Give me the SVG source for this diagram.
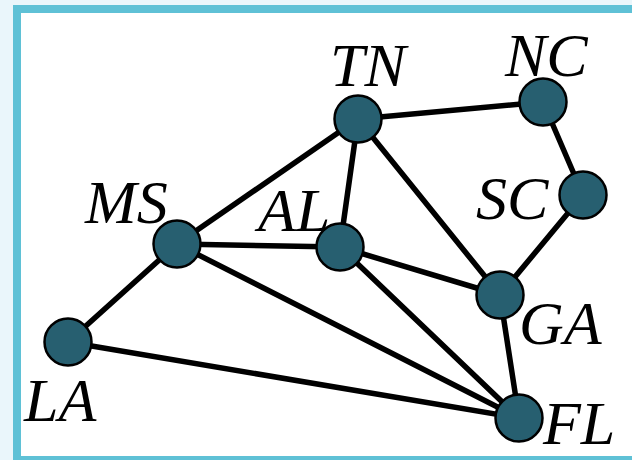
<svg xmlns="http://www.w3.org/2000/svg" width="632" height="460" viewBox="0 0 632 460">
<style>
.edge{stroke:#000;stroke-width:5.5;stroke-linecap:round;fill:none}
.node circle{fill:#275f70;stroke:#000;stroke-width:2.5}
.lbl{font-family:"Liberation Serif","Times New Roman",serif;font-style:italic;font-size:62px;fill:#000}
</style>
<rect x="0" y="0" width="632" height="460" fill="#eaf6fb"/>
<rect x="17" y="9" width="640" height="451" fill="#fff" stroke="#5fc1d6" stroke-width="8"/>
<g id="connectors">
<line class="edge" x1="358" y1="119" x2="543" y2="102"/>
<line class="edge" x1="543" y1="102" x2="583" y2="195"/>
<line class="edge" x1="583" y1="195" x2="500" y2="295"/>
<line class="edge" x1="358" y1="119" x2="177" y2="244"/>
<line class="edge" x1="358" y1="119" x2="340" y2="247"/>
<line class="edge" x1="358" y1="119" x2="500" y2="295"/>
<line class="edge" x1="177" y1="244" x2="340" y2="247"/>
<line class="edge" x1="177" y1="244" x2="68" y2="342"/>
<line class="edge" x1="177" y1="244" x2="519" y2="418"/>
<line class="edge" x1="340" y1="247" x2="500" y2="295"/>
<line class="edge" x1="340" y1="247" x2="519" y2="418"/>
<line class="edge" x1="500" y1="295" x2="519" y2="418"/>
<line class="edge" x1="68" y1="342" x2="519" y2="418"/>
</g>
<g id="TN" class="node"><circle cx="358" cy="119" r="23.5"/><text class="lbl" x="330" y="86">TN</text></g>
<g id="NC" class="node"><circle cx="543" cy="102" r="23.5"/><text class="lbl" x="505" y="76">NC</text></g>
<g id="SC" class="node"><circle cx="583" cy="195" r="23.5"/><text class="lbl" x="476" y="219">SC</text></g>
<g id="MS" class="node"><circle cx="177" cy="244" r="23.5"/><text class="lbl" x="85" y="223">MS</text></g>
<g id="AL" class="node"><circle cx="340" cy="247" r="23.5"/><text class="lbl" x="258" y="231">AL</text></g>
<g id="GA" class="node"><circle cx="500" cy="295" r="23.5"/><text class="lbl" x="519" y="344">GA</text></g>
<g id="LA" class="node"><circle cx="68" cy="342" r="23.5"/><text class="lbl" x="24" y="421">LA</text></g>
<g id="FL" class="node"><circle cx="519" cy="418" r="23.5"/><text class="lbl" x="543" y="444">FL</text></g>
</svg>
